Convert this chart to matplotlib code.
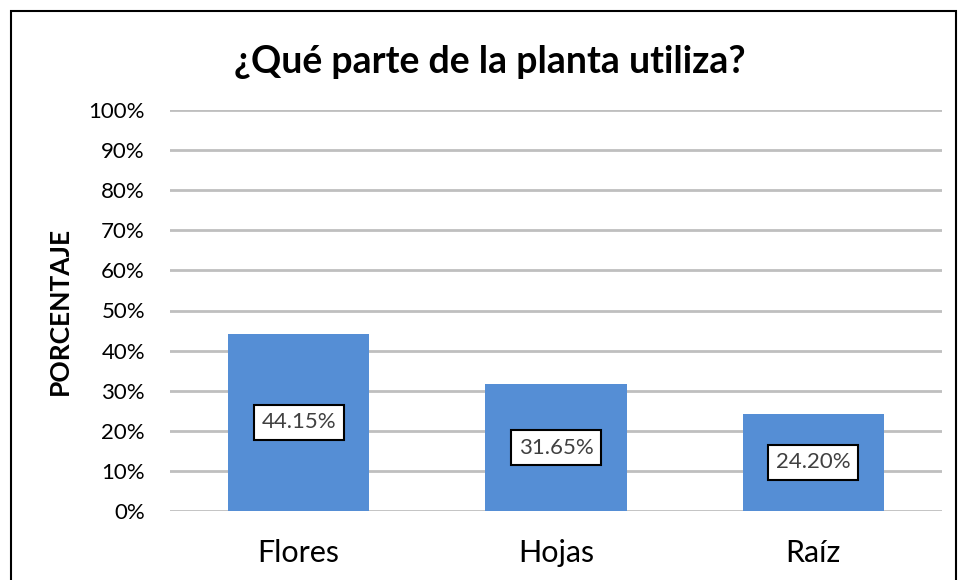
import matplotlib.pyplot as plt
from matplotlib.patches import Rectangle
from matplotlib.ticker import PercentFormatter

plt.rcParams['font.family'] = ['Lato', 'DejaVu Sans']

categorias = ["Flores", "Hojas", "Raíz"]
valores = [44.15, 31.65, 24.20]
etiquetas = ["44.15%", "31.65%", "24.20%"]

fig = plt.figure(figsize=(9.59, 5.80), dpi=100)
ax = fig.add_axes([170 / 959, 1 - 511 / 580, 772 / 959, 401 / 580])

# marco exterior del grafico
fig.patches.append(Rectangle((11 / 959, -0.05), 945 / 959, 1 - 11 / 580 + 0.05,
                             transform=fig.transFigure, fill=False,
                             edgecolor="black", linewidth=1.5))

x = range(len(categorias))
ax.bar(x, valores, width=0.55, color="#558ED5", zorder=3)

for xi, v, t in zip(x, valores, etiquetas):
    ax.text(xi, v / 2, t, ha="center", va="center", fontsize=16, color="#404040",
            zorder=4, bbox=dict(boxstyle="square,pad=0.35", facecolor="white",
                                edgecolor="black", linewidth=1.5))

ax.set_xlim(-0.5, 2.5)
ax.set_ylim(0, 100)
ax.set_yticks(range(0, 101, 10))
ax.yaxis.set_major_formatter(PercentFormatter(decimals=0))
ax.set_xticks(list(x))
ax.set_xticklabels(categorias, fontsize=22)
ax.tick_params(axis="y", labelsize=16, length=0, pad=18)
ax.tick_params(axis="x", length=0, pad=20)
ax.grid(axis="y", color="#BFBFBF", linewidth=2, zorder=0)
for s in ax.spines.values():
    s.set_visible(False)

ax.set_ylabel("PORCENTAJE", fontsize=19, fontweight="bold", labelpad=12)
fig.text(490 / 959, 1 - 62 / 580, "¿Qué parte de la planta utiliza?",
         ha="center", va="center", fontsize=27, fontweight="bold")

fig.savefig("out.png", dpi=100)
